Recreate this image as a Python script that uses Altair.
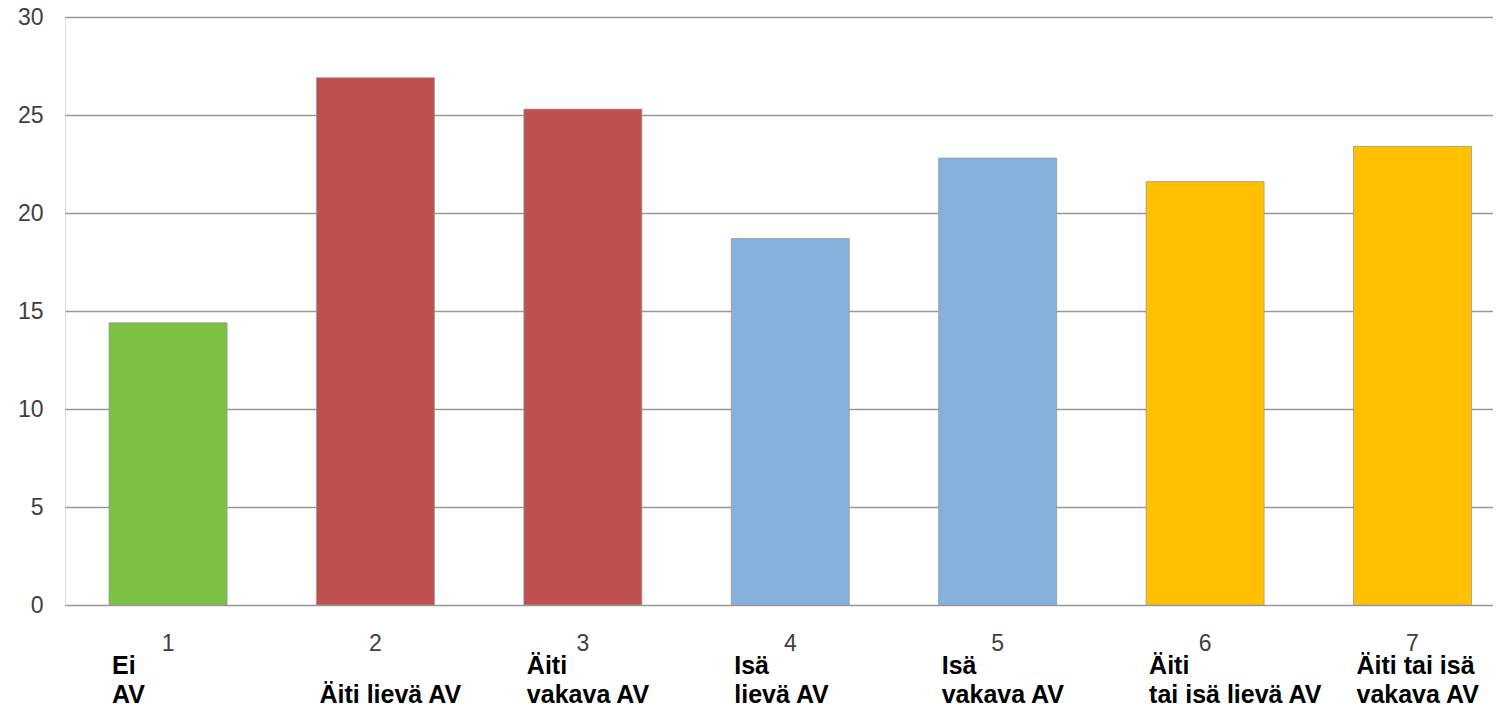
import altair as alt
import pandas as pd

groups = ["1", "2", "3", "4", "5", "6", "7"]
values = [14.4, 26.9, 25.3, 18.7, 22.8, 21.6, 23.4]
colors = ["#7DC143", "#C0504D", "#C0504D", "#85B1DC", "#85B1DC", "#FFC000", "#FFC000"]
line1 = ["Ei", "", "Äiti", "Isä", "Isä", "Äiti", "Äiti tai isä"]
line2 = ["AV", "Äiti lievä AV", "vakava AV", "lievä AV", "vakava AV", "tai isä lievä AV", "vakava AV"]

df = pd.DataFrame({"g": groups, "v": values, "c": colors, "l1": line1, "l2": line2})

xscale = alt.Scale(domain=groups, paddingInner=0.431, paddingOuter=0.158, align=0.672)

base = alt.Chart(df)

bars = base.mark_bar(stroke="#9a9a9a", strokeWidth=0.8).encode(
    x=alt.X("g:N", scale=xscale, sort=groups,
            axis=alt.Axis(title=None, labelAngle=0, ticks=False, domain=False,
                          labelFont="Liberation Sans", labelFontSize=23,
                          labelColor="#404040", labelPadding=27)),
    y=alt.Y("v:Q", scale=alt.Scale(domain=[0, 30], nice=False),
            axis=alt.Axis(title=None, values=[0, 5, 10, 15, 20, 25, 30],
                          ticks=False, domain=False, grid=True,
                          gridColor="#999999", gridWidth=1.3,
                          labelFont="Liberation Sans", labelFontSize=23,
                          labelColor="#404040", labelPadding=22)),
    color=alt.Color("c:N", scale=None),
)

t1 = base.mark_text(align="left", baseline="alphabetic", dx=-56, dy=69,
                    font="Liberation Sans", fontWeight="bold", fontSize=25,
                    color="#000000").encode(
    x=alt.X("g:N", scale=xscale, sort=groups),
    y=alt.value(588),
    text="l1:N",
)

t2 = base.mark_text(align="left", baseline="alphabetic", dx=-56, dy=98,
                    font="Liberation Sans", fontWeight="bold", fontSize=25,
                    color="#000000").encode(
    x=alt.X("g:N", scale=xscale, sort=groups),
    y=alt.value(588),
    text="l2:N",
)

chart = alt.layer(bars, t1, t2).properties(
    width=1428, height=588,
    autosize=alt.AutoSizeParams(type="none"),
    padding={"left": 57, "top": 9, "right": 0, "bottom": 99},
).configure_view(stroke=None).configure(background="white")

chart.save("out.html", embed_options={"renderer": "svg", "actions": False})
